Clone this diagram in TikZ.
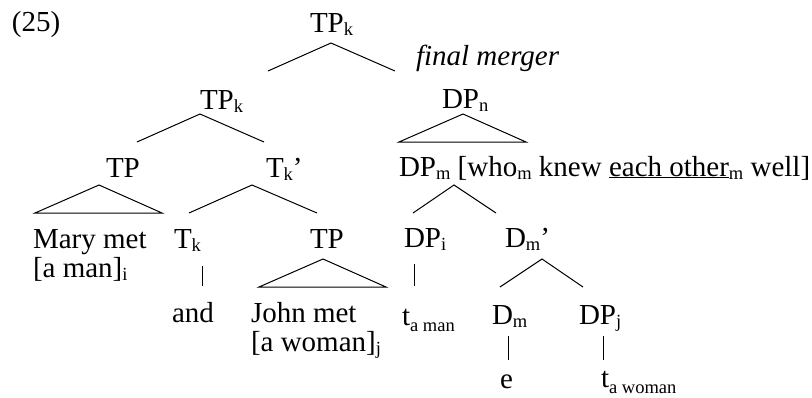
\documentclass[tikz,border=0pt]{standalone}
\usepackage{fontspec}
\setmainfont{Liberation Serif}
\newcommand{\sbs}[1]{\raisebox{-3.5pt}{\fontsize{18.5}{18.5}\selectfont #1}}
\newcommand{\sbt}[1]{\raisebox{-6pt}{\fontsize{18.5}{18.5}\selectfont #1}}
\begin{document}
\begin{tikzpicture}[x=1pt,y=-1pt,
  lbl/.style={anchor=base west,inner sep=0pt,outer sep=0pt,font=\fontsize{29}{29}\selectfont},
  two/.style={lbl,align=left},
  br/.style={line width=1pt}]
\useasboundingbox (0,0) rectangle (812,397);
% labels
\node[lbl] (n25) at (12,31) {(25)};
\node[lbl] (tpk1) at (310,32) {TP\sbs{k}};
\node[lbl] (fm) at (416,65) {\itshape final merger};
\node[lbl] (tpk2) at (200,109) {TP\sbs{k}};
\node[lbl] (dpn) at (442,108) {DP\sbs{n}};
\node[lbl] (tp1) at (106,177) {TP};
\node[lbl] (tkp) at (266,177) {T\sbs{k}'};
\node[lbl] (dpm) at (399,176) {DP\sbs{m} [who\sbs{m} knew \underline{each other}\sbs{m} well]};
\node[two] (mary) at (33,277) {Mary met\\{}{[a man]}\sbs{i}};
\node[lbl] (tk) at (174,248) {T\sbs{k}};
\node[lbl] (tp2) at (310,248) {TP};
\node[lbl] (dpi) at (404,247) {DP\sbs{i}};
\node[lbl] (dmp) at (505,247) {D\sbs{m}'};
\node[lbl] (and) at (172,322) {and};
\node[two] (john) at (251,351) {John met\\{}{[a woman]}\sbs{j}};
\node[lbl] (tam) at (402,325) {t\sbt{a man}};
\node[lbl] (dm) at (492,324) {D\sbs{m}};
\node[lbl] (dpj) at (579,324) {DP\sbs{j}};
\node[lbl] (e) at (500,388) {e};
\node[lbl] (taw) at (601,387) {t\sbt{a woman}};
% branch points
\coordinate (a1) at (331,43); \coordinate (a1l) at (268,71); \coordinate (a1r) at (395,71);
\coordinate (a2) at (200,114); \coordinate (a2l) at (137,142); \coordinate (a2r) at (264,142);
\coordinate (a3) at (463,114); \coordinate (a3l) at (399,142); \coordinate (a3r) at (526,142);
\coordinate (a4) at (99,185); \coordinate (a4l) at (35,213); \coordinate (a4r) at (162,213);
\coordinate (a5) at (252,185); \coordinate (a5l) at (189,213); \coordinate (a5r) at (317,213);
\coordinate (a6) at (454,185); \coordinate (a6l) at (413,213); \coordinate (a6r) at (496,213);
\coordinate (a7) at (323,259); \coordinate (a7l) at (259,287); \coordinate (a7r) at (386,287);
\coordinate (a8) at (542,259); \coordinate (a8l) at (500,287); \coordinate (a8r) at (583,287);
\coordinate (v1t) at (202,266); \coordinate (v1b) at (202,286);
\coordinate (v2t) at (414,264); \coordinate (v2b) at (414,286);
\coordinate (v3t) at (508,336); \coordinate (v3b) at (508,360);
\coordinate (v4t) at (603,336); \coordinate (v4b) at (603,360);
% branches
\draw[br] (a1l) -- (a1) -- (a1r);
\draw[br] (a2l) -- (a2) -- (a2r);
\draw[br] (a3l) -- (a3) -- (a3r) -- cycle;
\draw[br] (a4l) -- (a4) -- (a4r) -- cycle;
\draw[br] (a5l) -- (a5) -- (a5r);
\draw[br] (a6l) -- (a6) -- (a6r);
\draw[br] (a7l) -- (a7) -- (a7r) -- cycle;
\draw[br] (a8l) -- (a8) -- (a8r);
\draw[br] (v1t) -- (v1b);
\draw[br] (v2t) -- (v2b);
\draw[br] (v3t) -- (v3b);
\draw[br] (v4t) -- (v4b);
\end{tikzpicture}
\end{document}
